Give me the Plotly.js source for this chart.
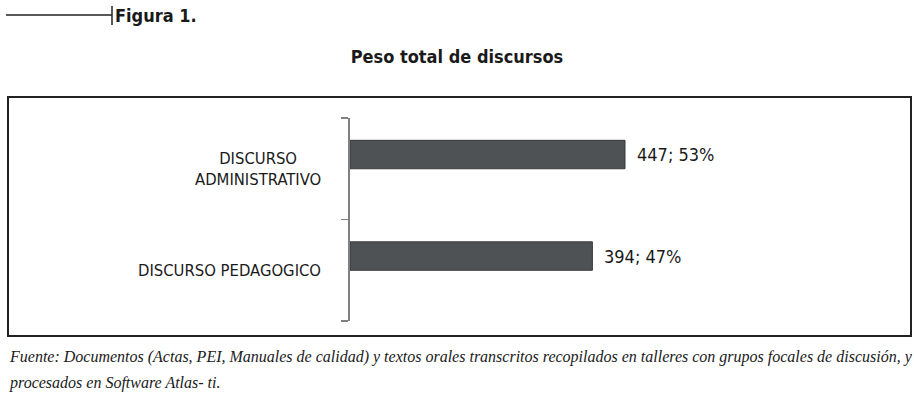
<!DOCTYPE html>
<html><head><meta charset="utf-8">
<script src="https://cdn.plot.ly/plotly-3.0.1.min.js"></script>
<style>body{margin:0;background:#fff}#chart{width:914px;height:399px}</style>
</head><body><div id="chart"></div>
<script>
const categories = ['DISCURSO PEDAGOGICO', 'DISCURSO ADMINISTRATIVO'];
const categoryLabels = ['DISCURSO PEDAGOGICO', 'DISCURSO<br>ADMINISTRATIVO'];
const values = [394, 447];
const percents = [47, 53];
const titleText = 'Peso total de discursos';
const figureLabel = 'Figura 1.';
const sourceLine1 = 'Fuente: Documentos (Actas, PEI, Manuales de calidad) y textos orales transcritos recopilados en talleres con grupos focales de discusión, y';
const sourceLine2 = 'procesados en Software Atlas- ti.';

const W = 914, H = 399;
const M = {l: 350, r: 14, t: 118, b: 78};
const PW = W - M.l - M.r, PH = H - M.t - M.b;
const px = x => (x - M.l) / PW;
const py = y => (H - M.b - y) / PH;

const sans = '"DejaVu Sans Condensed", sans-serif';

const trace = {
  type: 'bar', orientation: 'h',
  y: categories, x: values,
  width: 0.28, offset: 0,
  marker: {color: '#4f5255', line: {color: '#36383a', width: 1}},
  hoverinfo: 'skip'
};

const annotations = [];
categories.forEach((c, i) => {
  annotations.push({
    xref: 'x', yref: 'y', x: values[i], y: i + 0.14,
    text: values[i] + '; ' + percents[i] + '%',
    showarrow: false, xanchor: 'left', yanchor: 'middle', xshift: 10,
    font: {family: sans, size: 18, color: '#1a1a1a'}
  });
  annotations.push({
    xref: 'paper', yref: 'y', x: px(323), y: c,
    text: categoryLabels[i], align: 'center',
    showarrow: false, xanchor: 'right', yanchor: 'middle',
    font: {family: sans, size: 16.5, color: '#1a1a1a'}
  });
});
annotations.push({
  xref: 'paper', yref: 'paper', x: px(113), y: py(15),
  text: '<b>' + figureLabel + '</b>', showarrow: false, xanchor: 'left', yanchor: 'middle',
  font: {family: sans, size: 18, color: '#1a1a1a'}
});
annotations.push({
  xref: 'paper', yref: 'paper', x: px(7), y: py(357),
  text: '<i>' + sourceLine1 + '</i>', showarrow: false, xanchor: 'left', yanchor: 'middle',
  font: {family: '"Liberation Serif", serif', size: 16, color: '#1a1a1a'}
});
annotations.push({
  xref: 'paper', yref: 'paper', x: px(7), y: py(383),
  text: '<i>' + sourceLine2 + '</i>', showarrow: false, xanchor: 'left', yanchor: 'middle',
  font: {family: '"Liberation Serif", serif', size: 16, color: '#1a1a1a'}
});

const shapes = [
  {type: 'rect', xref: 'paper', yref: 'paper', x0: px(8), x1: px(911), y0: py(97), y1: py(336),
   line: {color: '#222', width: 2}, fillcolor: 'rgba(0,0,0,0)', layer: 'below'},
  {type: 'line', xref: 'paper', yref: 'paper', x0: px(6), x1: px(112), y0: py(15), y1: py(15),
   line: {color: '#222', width: 1.5}},
  {type: 'line', xref: 'paper', yref: 'paper', x0: px(112), x1: px(112), y0: py(6), y1: py(25),
   line: {color: '#222', width: 1.5}}
];

const layout = {
  width: W, height: H, margin: M,
  paper_bgcolor: '#fff', plot_bgcolor: '#fff',
  title: {text: '<b>' + titleText + '</b>', x: 0.5, xanchor: 'center', y: 1 - 57 / H, yanchor: 'middle',
          font: {family: sans, size: 18, color: '#1a1a1a'}},
  showlegend: false,
  xaxis: {visible: false, range: [0, 894], fixedrange: true},
  yaxis: {type: 'category', categoryorder: 'array', categoryarray: categories,
          range: [-0.5, 1.5], showticklabels: false, showgrid: false, zeroline: false,
          showline: true, linecolor: '#808080', linewidth: 2,
          ticks: 'outside', tickson: 'boundaries', ticklen: 7, tickcolor: '#808080', tickwidth: 1.5},
  annotations: annotations, shapes: shapes
};

Plotly.newPlot('chart', [trace], layout, {staticPlot: true, displayModeBar: false});
</script>
</body></html>
